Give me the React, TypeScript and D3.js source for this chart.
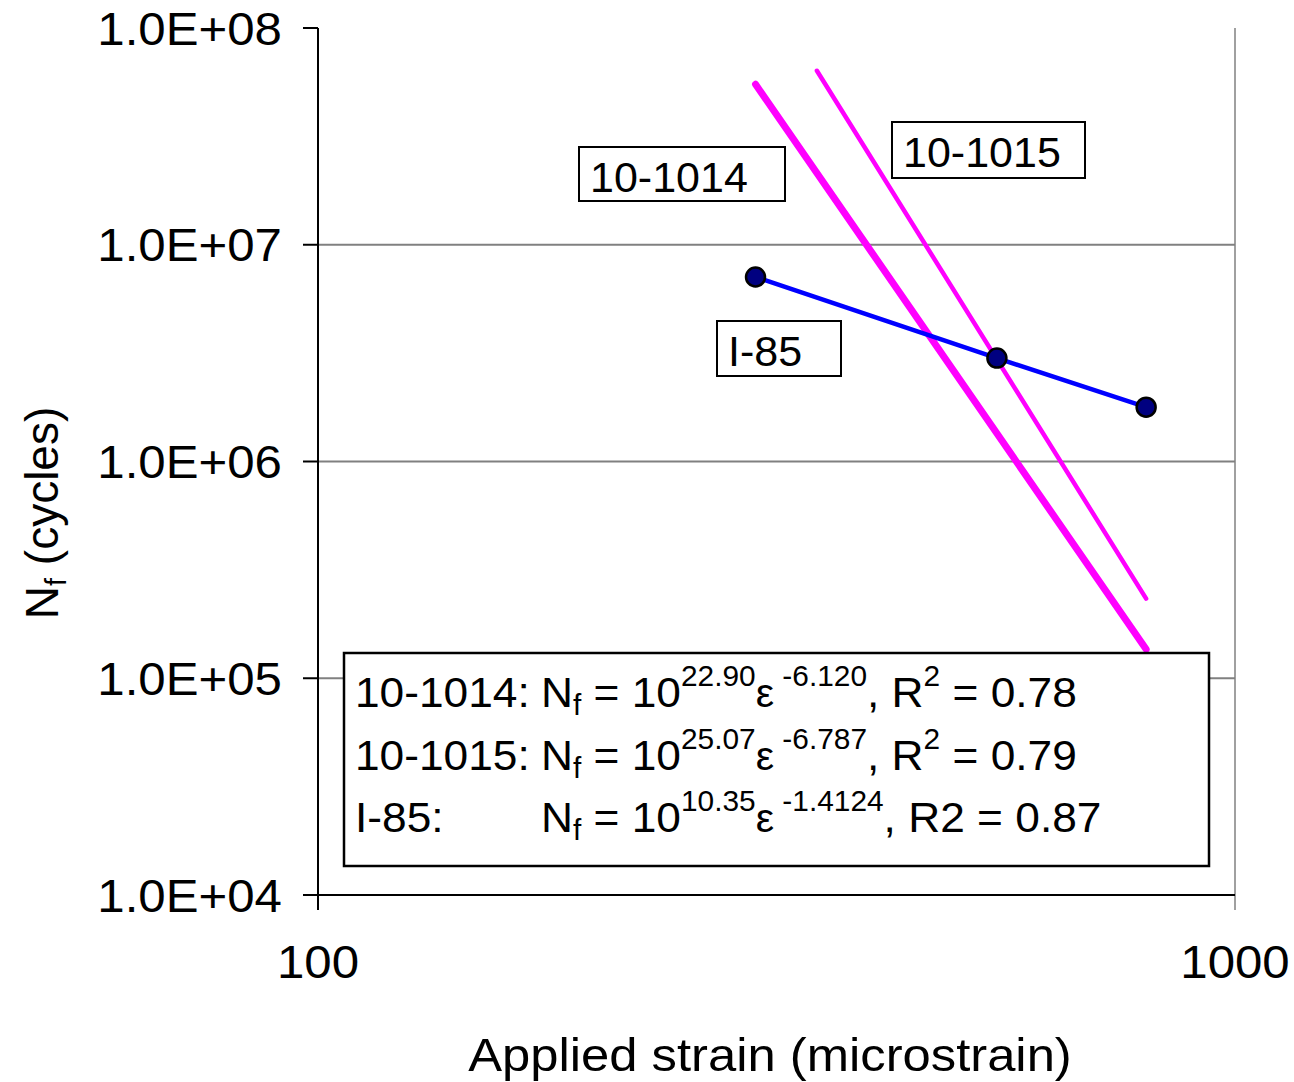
import React from "react";
import { scaleLog, line } from "d3";

// I-85 measured points (strain in microstrain, cycles to failure)
const i85Strain = [300, 550, 800];
const i85Cycles = [7.1e6, 3.0e6, 1.78e6];

// fitted trend lines (end points)
const trend1014Strain = [300, 800];
const trend1014Cycles = [5.5e7, 1.36e5];
const trend1015Strain = [350, 800];
const trend1015Cycles = [6.35e7, 2.33e5];

const yTicks = [1e4, 1e5, 1e6, 1e7, 1e8];
const xTicks = [100, 1000];

const equations = [
  { name: "10-1014:", a: "22.90", b: " -6.120", r: "R", rSup: "2", r2: " = 0.78" },
  { name: "10-1015:", a: "25.07", b: " -6.787", r: "R", rSup: "2", r2: " = 0.79" },
  { name: "I-85:", a: "10.35", b: " -1.4124", r: "R2", rSup: "", r2: " = 0.87" },
];

const FONT = "'Liberation Sans', Arial, Helvetica, sans-serif";
const STRETCH = 1.07; // reference text is a bit wide

const App = () => {
  const WIDTH = 1294;
  const HEIGHT = 1082;
  const left = 318;
  const right = 1235;
  const top = 28;
  const bottom = 895;

  const x = scaleLog().domain([100, 1000]).range([left, right]);
  const y = scaleLog().domain([1e4, 1e8]).range([bottom, top]);

  const path = line<[number, number]>()
    .x((d) => x(d[0]))
    .y((d) => y(d[1]));

  const i85 = i85Strain.map((s, i) => [s, i85Cycles[i]] as [number, number]);
  const t1014 = trend1014Strain.map((s, i) => [s, trend1014Cycles[i]] as [number, number]);
  const t1015 = trend1015Strain.map((s, i) => [s, trend1015Cycles[i]] as [number, number]);

  const fmtY = (d: number) => `1.0E+${String(Math.round(Math.log10(d))).padStart(2, "0")}`;
  const eqScale = 1.03;

  return (
    <svg
      width={WIDTH}
      height={HEIGHT}
      style={{ position: "absolute", left: 0, top: 0, background: "#fff" }}
      fontFamily={FONT}
    >
      {/* gridlines */}
      {yTicks.slice(1, 4).map((t) => (
        <line key={t} x1={left} x2={right} y1={y(t)} y2={y(t)} stroke="#808080" strokeWidth={2} />
      ))}
      <line x1={x(1000)} x2={x(1000)} y1={top} y2={bottom + 15} stroke="#808080" strokeWidth={1.5} />

      {/* axes */}
      <line x1={left} x2={left} y1={top} y2={bottom + 15} stroke="#000" strokeWidth={2} />
      <line x1={left} x2={right} y1={bottom} y2={bottom} stroke="#000" strokeWidth={2} />
      {yTicks.map((t) => (
        <g key={t}>
          <line x1={left - 15} x2={left} y1={y(t)} y2={y(t)} stroke="#000" strokeWidth={2} />
          <text
            transform={`translate(282,${y(t)}) scale(${STRETCH},1)`}
            dy="0.36em"
            textAnchor="end"
            fontSize={46}
          >
            {fmtY(t)}
          </text>
        </g>
      ))}
      {xTicks.map((t) => (
        <text
          key={t}
          transform={`translate(${x(t)},978) scale(${STRETCH},1)`}
          textAnchor="middle"
          fontSize={46}
        >
          {t}
        </text>
      ))}
      <text transform={`translate(770,1071) scale(1.08,1)`} textAnchor="middle" fontSize={47}>
        Applied strain (microstrain)
      </text>
      <text transform="translate(58,513) rotate(-90)" textAnchor="middle" fontSize={46}>
        N
        <tspan fontSize={29} dy={8}>f</tspan>
        <tspan dy={-8}> (cycles)</tspan>
      </text>

      {/* trend lines */}
      <path d={path(t1014) ?? ""} fill="none" stroke="#FF00FF" strokeWidth={7} strokeLinecap="round" />
      <path d={path(t1015) ?? ""} fill="none" stroke="#FF00FF" strokeWidth={4.5} strokeLinecap="round" />

      {/* I-85 series */}
      <path d={path(i85) ?? ""} fill="none" stroke="#0000FF" strokeWidth={4.5} />
      {i85.map((d, i) => (
        <circle key={i} cx={x(d[0])} cy={y(d[1])} r={9.5} fill="#000080" stroke="#000" strokeWidth={2.5} />
      ))}

      {/* series labels */}
      <g fontSize={43}>
        <rect x={579} y={147} width={206} height={54} fill="#fff" stroke="#000" strokeWidth={2} />
        <text x={590} y={192}>10-1014</text>
        <rect x={892} y={122} width={193} height={56} fill="#fff" stroke="#000" strokeWidth={2} />
        <text x={903} y={167}>10-1015</text>
        <rect x={717} y={321} width={124} height={55} fill="#fff" stroke="#000" strokeWidth={2} />
        <text x={728} y={366}>I-85</text>
      </g>

      {/* equation box */}
      <rect x={344} y={653} width={865} height={213} fill="#fff" stroke="#000" strokeWidth={2.5} />
      {equations.map((e, i) => (
        <text
          key={e.name}
          transform={`translate(355,${707 + i * 62.5}) scale(${eqScale},1)`}
          fontSize={43}
        >
          {e.name}
          <tspan x={186 / eqScale}>N</tspan>
          <tspan fontSize={29} dy={8}>f</tspan>
          <tspan dy={-8}> = 10</tspan>
          <tspan fontSize={29} dy={-21}>{e.a}</tspan>
          <tspan dy={21} fontSize={40}>ε</tspan>
          <tspan fontSize={29} dy={-21}>{e.b}</tspan>
          <tspan dy={21}>, {e.r}</tspan>
          {e.rSup ? <tspan fontSize={29} dy={-21}>{e.rSup}</tspan> : null}
          <tspan dy={e.rSup ? 21 : 0}>{e.r2}</tspan>
        </text>
      ))}
    </svg>
  );
};

export default App;
